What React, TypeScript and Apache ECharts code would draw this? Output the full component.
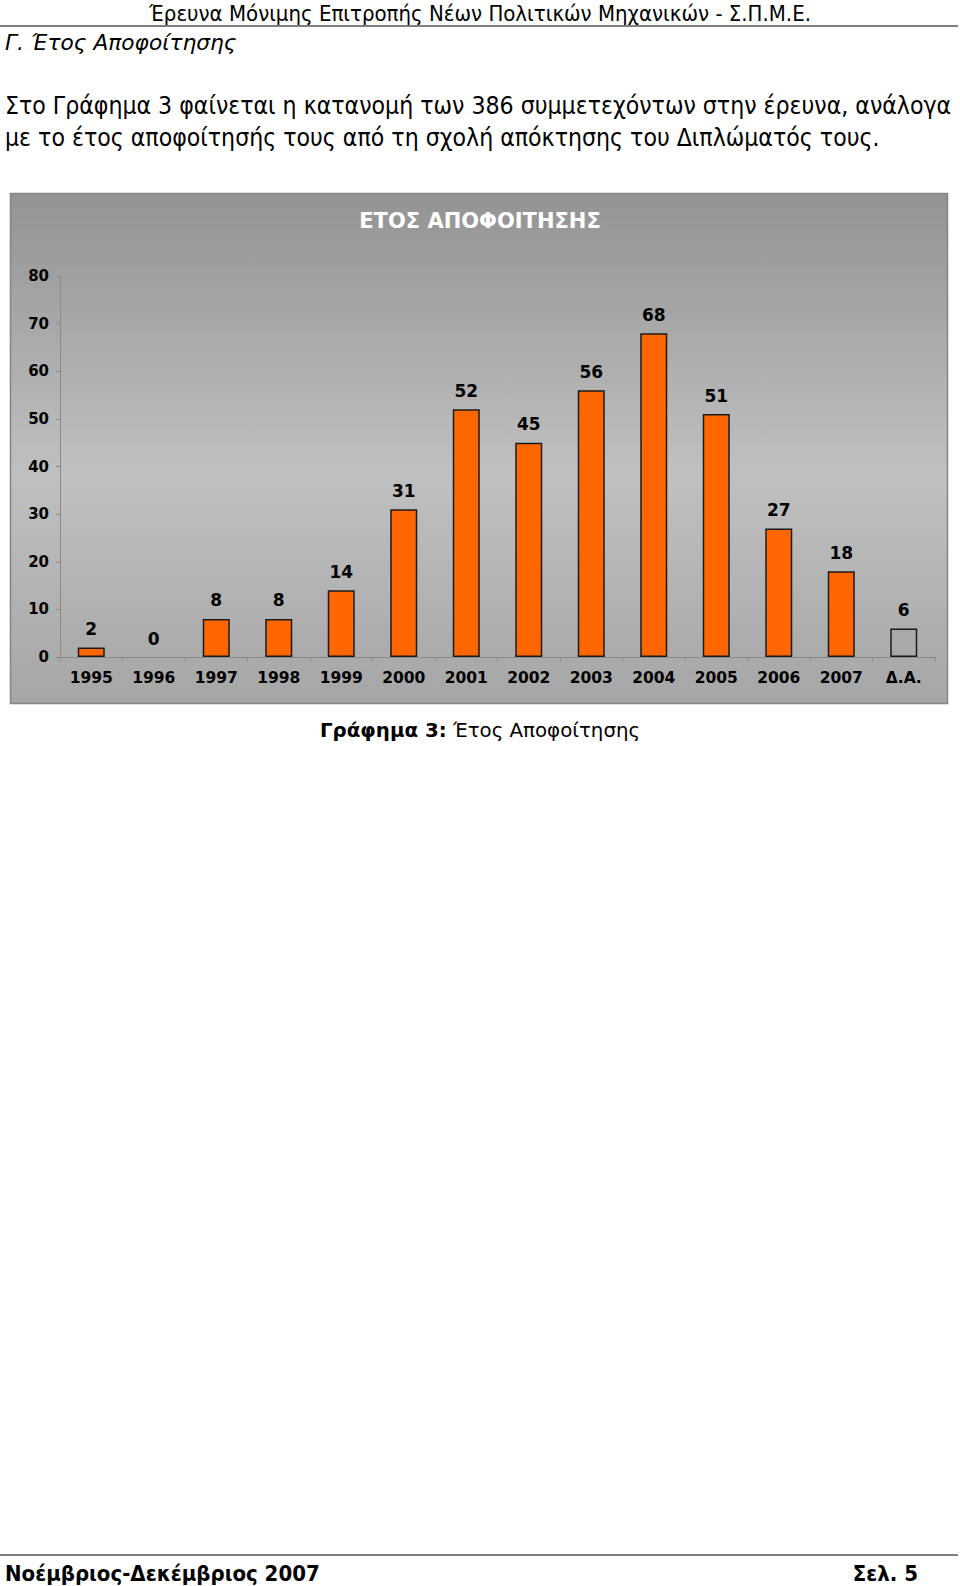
import React, { useEffect, useRef } from "react";
import * as echarts from "echarts";

const categories = ["1995", "1996", "1997", "1998", "1999", "2000", "2001", "2002", "2003", "2004", "2005", "2006", "2007", "Δ.Α."];
const values = [2, 0, 8, 8, 14, 31, 52, 45, 56, 68, 51, 27, 18, 6];
const yTicks = { min: 0, max: 80, interval: 10 };

const headerText = "Έρευνα Μόνιμης Επιτροπής Νέων Πολιτικών Μηχανικών - Σ.Π.Μ.Ε.";
const sectionTitle = "Γ. Έτος Αποφοίτησης";
const paragraphLines = [
  "Στο Γράφημα 3 φαίνεται η κατανομή των 386 συμμετεχόντων στην έρευνα, ανάλογα",
  "με το έτος αποφοίτησής τους από τη σχολή απόκτησης του Διπλώματός τους.",
];
const chartTitle = "ΕΤΟΣ ΑΠΟΦΟΙΤΗΣΗΣ";
const captionBold = "Γράφημα 3:";
const captionRest = " Έτος Αποφοίτησης";
const footerLeft = "Νοέμβριος-Δεκέμβριος 2007";
const footerRight = "Σελ. 5";

const condensed = "'DejaVu Sans Condensed', 'Liberation Sans Narrow', 'DejaVu Sans', sans-serif";
const verdana = "'DejaVu Sans', Verdana, sans-serif";

export default function App() {
  const ref = useRef<HTMLDivElement>(null);
  useEffect(() => {
    const chart = echarts.init(ref.current!, null, { renderer: "svg" });
    chart.setOption({
      animation: false,
      backgroundColor: "#ffffff",
      grid: { left: 60, right: 25, top: 276, bottom: 929, containLabel: false },
      xAxis: {
        type: "category",
        data: categories,
        boundaryGap: true,
        axisLine: { show: true, lineStyle: { color: "#8a8a8a", width: 1 } },
        axisTick: { show: true, alignWithLabel: false, length: 4, lineStyle: { color: "#8a8a8a" } },
        axisLabel: {
          color: "#000",
          fontFamily: verdana,
          fontWeight: "bold",
          fontSize: 15.5,
          margin: 13,
          interval: 0,
        },
      },
      yAxis: {
        type: "value",
        min: yTicks.min,
        max: yTicks.max,
        interval: yTicks.interval,
        splitLine: { show: false },
        axisLine: { show: true, lineStyle: { color: "#8a8a8a", width: 1 } },
        axisTick: { show: true, length: 4, lineStyle: { color: "#8a8a8a" } },
        axisLabel: {
          color: "#000",
          fontFamily: verdana,
          fontWeight: "bold",
          fontSize: 15,
          margin: 11,
        },
      },
      series: [
        {
          type: "bar",
          barWidth: 27,
          data: values.map((v, i) => ({
            value: v,
            itemStyle: {
              color: i === categories.length - 1 ? "#a9a9a9" : "#ff6600",
              borderColor: "#1a1a1a",
              borderWidth: v === 0 ? 0 : 1.5,
            },
          })),
          label: {
            show: true,
            position: "top",
            distance: 10,
            color: "#000",
            fontFamily: verdana,
            fontWeight: "bold",
            fontSize: 17,
          },
        },
      ],
      graphic: [
        {
          type: "rect",
          z: -10,
          silent: true,
          shape: { x: 10.5, y: 193.5, width: 937, height: 510 },
          style: {
            fill: new echarts.graphic.LinearGradient(0, 0, 0, 1, [
              { offset: 0, color: "#939393" },
              { offset: 0.55, color: "#c0c0c0" },
              { offset: 1, color: "#a6a6a6" },
            ]),
            stroke: "#858585",
            lineWidth: 1.5,
          },
        },
        {
          type: "text",
          x: 480,
          y: 221,
          style: {
            text: chartTitle,
            fill: "#ffffff",
            font: `bold 21px ${verdana}`,
            textAlign: "center",
            textVerticalAlign: "middle",
          },
        },
        {
          type: "text",
          x: 480,
          y: 13,
          style: {
            text: headerText,
            fill: "#000",
            font: `22px ${condensed}`,
            textAlign: "center",
            textVerticalAlign: "middle",
          },
        },
        {
          type: "line",
          shape: { x1: 0, y1: 26, x2: 958, y2: 26 },
          style: { stroke: "#000", lineWidth: 1.2 },
        },
        {
          type: "text",
          x: 5,
          y: 42,
          style: {
            text: sectionTitle,
            fill: "#000",
            font: `italic 21.7px ${verdana}`,
            textAlign: "left",
            textVerticalAlign: "middle",
          },
        },
        {
          type: "text",
          x: 5,
          y: 105,
          style: {
            text: paragraphLines[0],
            fill: "#000",
            font: `24.6px ${condensed}`,
            textAlign: "left",
            textVerticalAlign: "middle",
          },
        },
        {
          type: "text",
          x: 5,
          y: 137,
          style: {
            text: paragraphLines[1],
            fill: "#000",
            font: `24.6px ${condensed}`,
            textAlign: "left",
            textVerticalAlign: "middle",
          },
        },
        {
          type: "text",
          x: 320,
          y: 730,
          style: {
            rich: {
              b: { font: `bold 19.8px ${verdana}`, fill: "#000" },
              n: { font: `19.8px ${verdana}`, fill: "#000" },
            },
            text: `{b|${captionBold}}{n|${captionRest}}`,
            textAlign: "left",
            textVerticalAlign: "middle",
          },
        },
        {
          type: "line",
          shape: { x1: 0, y1: 1555, x2: 958, y2: 1555 },
          style: { stroke: "#000", lineWidth: 1.2 },
        },
        {
          type: "text",
          x: 5,
          y: 1573,
          style: {
            text: footerLeft,
            fill: "#000",
            font: `bold 22px ${condensed}`,
            textAlign: "left",
            textVerticalAlign: "middle",
          },
        },
        {
          type: "text",
          x: 918,
          y: 1573,
          style: {
            text: footerRight,
            fill: "#000",
            font: `bold 22px ${condensed}`,
            textAlign: "right",
            textVerticalAlign: "middle",
          },
        },
      ],
    });
    return () => chart.dispose();
  }, []);
  return (
    <div
      ref={ref}
      style={{ position: "absolute", left: 0, top: 0, width: 960, height: 1586 }}
    />
  );
}
